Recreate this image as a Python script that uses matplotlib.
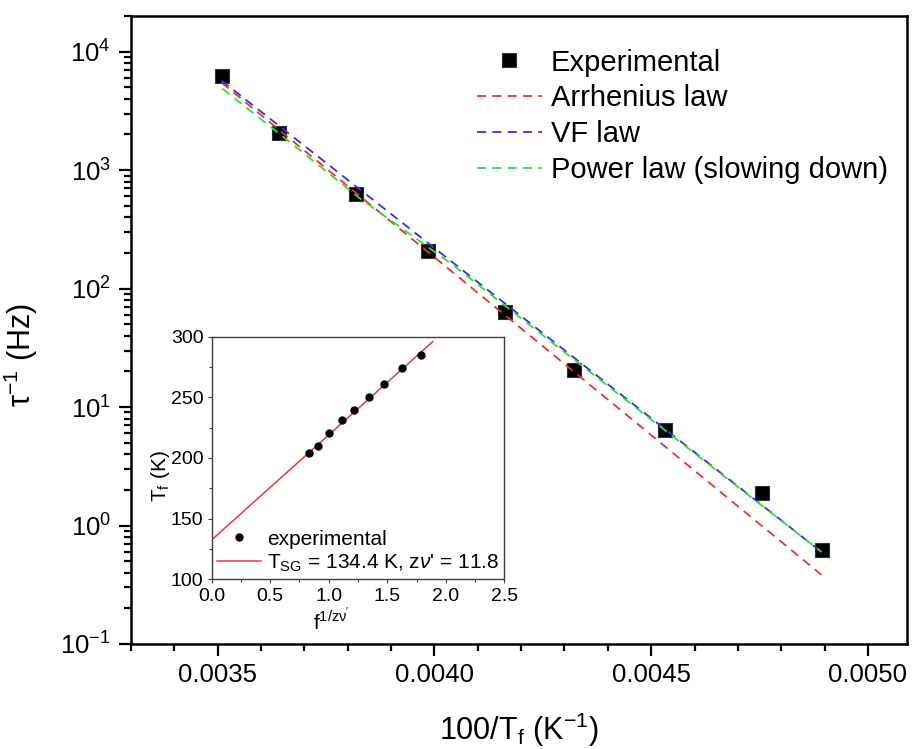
import matplotlib
matplotlib.use('Agg')
import matplotlib.pyplot as plt
from matplotlib.ticker import MultipleLocator, FixedLocator, FormatStrFormatter, LogLocator

plt.rcParams['font.family'] = ['Liberation Sans', 'DejaVu Sans']
plt.rcParams['mathtext.fontset'] = 'custom'
plt.rcParams['mathtext.rm'] = 'Liberation Sans'
plt.rcParams['mathtext.it'] = 'Liberation Sans:italic'
plt.rcParams['mathtext.bf'] = 'Liberation Sans:bold'

# main panel: relaxation rate vs inverse freezing temperature
inv_T = [0.003509, 0.003642, 0.003820, 0.003986, 0.004163, 0.004322, 0.004533, 0.004756, 0.004893]
rate = [6270, 2070, 632, 208, 63.7, 20.6, 6.36, 1.87, 0.622]

# fitted curves
arr_x = [0.003509, 0.004893]
arr_y = [5470, 0.383]
vf_x = [0.003509, 0.004036, 0.004893]
vf_y = [5690, 173, 0.598]
pw_x = [0.003511, 0.003645, 0.003829, 0.004036, 0.004290, 0.004893]
pw_y = [4870, 1991, 573, 165, 31.0, 0.598]

# inset: Tf vs f^(1/zv')
f_pow = [0.831, 0.911, 1.005, 1.110, 1.216, 1.344, 1.472, 1.629, 1.785]
Tf = [203.8, 209.9, 220.3, 231.0, 239.8, 250.5, 261.0, 273.9, 284.9]
fit_x = [0.0, 1.888]
fit_y = [132.5, 295.9]

fig = plt.figure(figsize=(9.14, 7.49), dpi=100)
ax = fig.add_axes([0.1433, 0.1402, 0.8490, 0.8385])

dash = (0, (5, 3.5))
ax.plot(inv_T, rate, 's', color='black', ms=9.5, mec='#333333', mew=0.8,
        label='Experimental', zorder=2)
ax.plot(arr_x, arr_y, color='#f03030', ls=dash, lw=1.3, label='Arrhenius law', zorder=3)
ax.plot(vf_x, vf_y, color='#3030f0', ls=dash, lw=1.3, label='VF law', zorder=3)
ax.plot(pw_x, pw_y, color='#30e030', ls=dash, lw=1.3, label='Power law (slowing down)', zorder=4)

ax.set_yscale('log')
ax.set_xlim(0.0033, 0.00509)
ax.set_ylim(0.1, 2.0e4)
ax.xaxis.set_major_locator(FixedLocator([0.0035, 0.0040, 0.0045, 0.0050]))
ax.xaxis.set_major_formatter(FormatStrFormatter('%.4f'))
ax.xaxis.set_minor_locator(MultipleLocator(0.0001))
ax.yaxis.set_minor_locator(LogLocator(base=10, subs=range(2, 10), numticks=20))

for s in ax.spines.values():
    s.set_linewidth(1.8)
ax.tick_params(which='both', direction='out', width=1.6, top=False, right=False)
ax.tick_params(which='major', length=8.5, labelsize=18.5)
ax.tick_params(axis='x', which='major', pad=5)
ax.tick_params(axis='y', which='major', pad=6)
ax.tick_params(which='minor', length=5)

ax.set_xlabel(r'100/T$_\mathregular{f}$ (K$^\mathregular{-1}$)', fontsize=22)
ax.xaxis.set_label_coords(0.5, -0.106)
ax.set_ylabel(r'τ$^\mathregular{-1}$ (Hz)', fontsize=22)
ax.yaxis.set_label_coords(-0.117, 0.46)

ax.legend(loc='upper right', bbox_to_anchor=(0.975, 0.948), frameon=False, fontsize=21,
          handlelength=2.23, handletextpad=0.3, labelspacing=0.27, borderpad=0,
          borderaxespad=0)

# inset
ins = fig.add_axes([0.2316, 0.2266, 0.3202, 0.3239])
ins.plot(f_pow, Tf, 'o', color='black', ms=5, label='experimental', zorder=3)
ins.plot(fit_x, fit_y, color='#e83838', lw=1.1,
         label=r"T$_\mathregular{SG}$ = 134.4 K, z$\nu$' = 11.8", zorder=2)
ins.set_xlim(0, 2.5)
ins.set_ylim(100, 300)
ins.xaxis.set_major_locator(MultipleLocator(0.5))
ins.xaxis.set_minor_locator(MultipleLocator(0.25))
ins.yaxis.set_major_locator(MultipleLocator(50))
ins.yaxis.set_minor_locator(MultipleLocator(25))
ins.xaxis.set_major_formatter(FormatStrFormatter('%.1f'))
for s in ins.spines.values():
    s.set_linewidth(1.0)
    s.set_color('#404040')
ins.tick_params(which='both', direction='out', width=0.8, colors='#404040', labelcolor='black')
ins.tick_params(which='major', length=3, labelsize=14, pad=3)
ins.tick_params(which='minor', length=2)
ins.set_xlabel(r"f$^\mathregular{1/z\nu'}$", fontsize=15)
ins.xaxis.set_label_coords(0.41, -0.118)
ins.set_ylabel(r'T$_\mathregular{f}$ (K)', fontsize=15)
ins.yaxis.set_label_coords(-0.136, 0.426)
ins.legend(loc='lower left', frameon=False, fontsize=15, handlelength=2.1,
           handletextpad=0.3, labelspacing=0.2, borderpad=0.15, borderaxespad=0.1)

fig.savefig('out.png', dpi=100)
